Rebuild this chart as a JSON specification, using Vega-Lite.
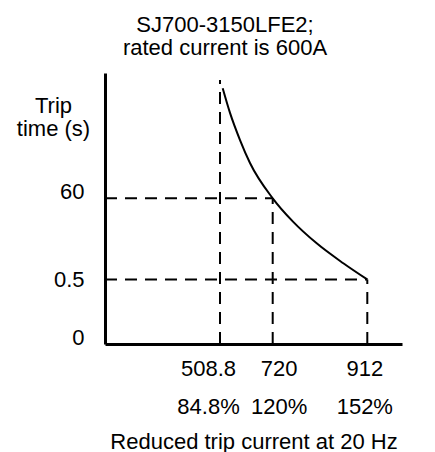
{
  "$schema": "https://vega.github.io/schema/vega-lite/v6.json",
  "autosize": "none",
  "width": 297,
  "height": 271,
  "padding": {"left": 105, "top": 73, "right": 33, "bottom": 108},
  "background": "white",
  "config": {
    "font": "Liberation Sans",
    "view": {"stroke": null},
    "text": {"font": "Liberation Sans", "fontSize": 22, "color": "black"}
  },
  "title": {
    "text": ["SJ700-3150LFE2;", "rated current is 600A"],
    "font": "Liberation Sans",
    "fontSize": 22,
    "fontWeight": "normal",
    "color": "black",
    "anchor": "middle",
    "frame": "group",
    "dx": -28.5,
    "lineHeight": 23,
    "baseline": "bottom",
    "offset": -9
  },
  "encoding": {
    "x": {
      "field": "x",
      "type": "quantitative",
      "scale": {"domain": [0, 508.8, 720, 912, 1000], "range": [0, 115, 167.7, 262.3, 297], "clamp": false, "nice": false, "zero": false},
      "axis": {
        "values": [508.8, 720, 912],
        "grid": false,
        "ticks": false,
        "tickSize": 0,
        "domainColor": "black",
        "domainWidth": 3,
        "labelFont": "Liberation Sans",
        "labelFontSize": 22,
        "labelColor": "black",
        "labelPadding": 14,
        "labelLineHeight": 38,
        "labelBaseline": "top",
        "labelFlush": false,
        "labelOverlap": false,
        "labelOffset": {"condition": [{"test": "datum.value == 508.8", "value": -12}, {"test": "datum.value == 720", "value": 6}], "value": -3},
        "labelExpr": "[format(datum.value, '~g'), format(datum.value / 6, '.1~f') + '%']",
        "title": "Reduced trip current at 20 Hz",
        "titleFont": "Liberation Sans",
        "titleFontSize": 22,
        "titleFontWeight": "normal",
        "titleColor": "black",
        "titleBaseline": "alphabetic",
        "titleY": 104
      }
    },
    "y": {
      "field": "y",
      "type": "quantitative",
      "scale": {"domain": [0, 0.5, 60, 120], "range": [271, 206.5, 125.3, 0], "nice": false, "zero": false},
      "axis": {
        "values": [0, 0.5, 60],
        "grid": false,
        "ticks": false,
        "tickSize": 0,
        "domainColor": "black",
        "domainWidth": 3,
        "labelFont": "Liberation Sans",
        "labelFontSize": 22,
        "labelColor": "black",
        "labelPadding": 21,
        "labelAlign": "right",
        "labelFlush": false,
        "labelOverlap": false,
        "labelBaseline": {"condition": {"test": "datum.value == 0.5", "value": "middle"}, "value": "alphabetic"},
        "labelExpr": "format(datum.value, '~g')",
        "title": ["Trip", "time (s)"],
        "titleFont": "Liberation Sans",
        "titleFontSize": 22,
        "titleFontWeight": "normal",
        "titleColor": "black",
        "titleAngle": 0,
        "titleAlign": "center",
        "titleBaseline": "alphabetic",
        "titleX": -52,
        "titleY": 39.7,
        "titleLineHeight": 23
      }
    }
  },
  "layer": [
    {
      "data": {"values": [
        {"x": 508.8, "y": 0, "x2": 508.8, "y2": 116.7},
        {"x": 720, "y": 0, "x2": 720, "y2": 60},
        {"x": 912, "y": 0, "x2": 912, "y2": 0.5},
        {"x": 0, "y": 60, "x2": 720, "y2": 60},
        {"x": 0, "y": 0.5, "x2": 912, "y2": 0.5}
      ]},
      "mark": {"type": "rule", "color": "black", "strokeWidth": 2, "strokeDash": [12, 8]},
      "encoding": {
        "x2": {"field": "x2"},
        "y2": {"field": "y2"}
      }
    },
    {
      "data": {"values": [
        {"x": 519.6, "y": 112.7},
        {"x": 548.9, "y": 100.9},
        {"x": 589, "y": 87.9},
        {"x": 629, "y": 76.9},
        {"x": 720, "y": 60},
        {"x": 761.2, "y": 42.9},
        {"x": 809.3, "y": 27.0},
        {"x": 863.3, "y": 12.4},
        {"x": 912, "y": 0.5}
      ]},
      "mark": {"type": "line", "color": "black", "strokeWidth": 2, "interpolate": "monotone"}
    },
    {
      "data": {"values": [{"label": "A"}]},
      "mark": {"type": "text", "align": "left", "baseline": "middle", "dx": 11, "fontSize": 22, "font": "Liberation Sans", "color": "black"},
      "encoding": {
        "x": {"datum": 1000, "type": "quantitative"},
        "y": {"datum": 0, "type": "quantitative"},
        "text": {"field": "label"}
      }
    }
  ]
}
